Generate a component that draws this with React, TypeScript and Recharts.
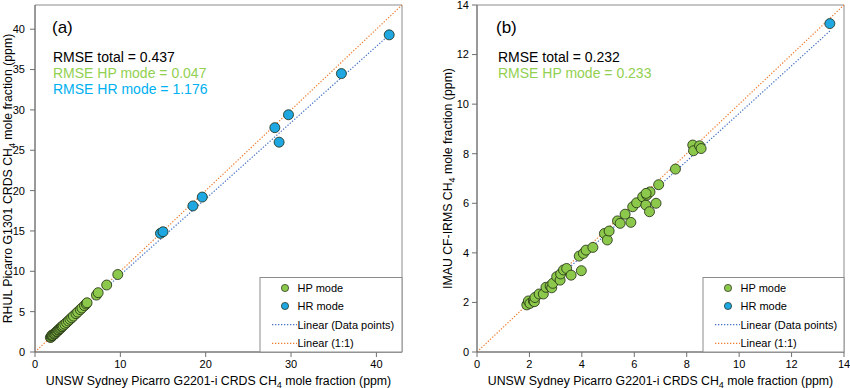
import { ScatterChart, Scatter, XAxis, YAxis, ReferenceLine, ReferenceArea } from 'recharts'

const FONT = '"Liberation Sans", Arial, Helvetica, sans-serif'
const GREEN = '#8cc84b'
const BLUE = '#1ea7e1'
const FIT_COLOR = '#4472c4'
const ONE_COLOR = '#ed7d31'

// panel (a): RHUL G1301 vs UNSW G2201-i
const HP_A: [number, number][] = [
  [1.8, 1.8], [1.9, 1.85], [1.95, 2.0], [2.0, 2.1], [2.1, 2.05], [2.2, 2.2], [2.3, 2.25],
  [2.4, 2.35], [2.5, 2.5], [2.6, 2.55], [2.7, 2.7], [2.8, 2.75], [2.9, 2.9], [3.0, 2.95],
  [3.1, 3.1], [3.2, 3.15], [3.3, 3.3], [3.5, 3.45], [3.7, 3.65], [3.9, 3.85], [4.1, 4.05],
  [4.3, 4.25], [4.5, 4.45], [4.8, 4.75], [5.0, 4.95], [5.3, 5.25], [5.5, 5.45], [5.8, 5.75],
  [6.0, 5.95], [6.1, 6.1], [7.2, 7.05], [7.4, 7.35], [8.4, 8.3], [9.7, 9.6],
]
const HR_A: [number, number][] = [
  [14.7, 14.7], [15.0, 14.9], [18.5, 18.1], [19.6, 19.2], [28.1, 27.8],
  [28.6, 26.0], [29.7, 29.4], [35.9, 34.5], [41.5, 39.3],
]
const FIT_A: [number, number][] = [[1.8, 1.8], [41.5, 39.3]]
const ONE_A: [number, number][] = [[0, 0], [43, 43]]
const XTICKS_A = [0, 10, 20, 30, 40]
const YTICKS_A = [0, 5, 10, 15, 20, 25, 30, 35, 40]
const STATS_A = [
  { text: 'RMSE total = 0.437', color: '#000000' },
  { text: 'RMSE HP mode = 0.047', color: '#92d050' },
  { text: 'RMSE HR mode = 1.176', color: '#00b0f0' },
]

// panel (b): IMAU CF-IRMS vs UNSW G2201-i
const HP_B: [number, number][] = [
  [1.9, 1.9], [1.96, 2.06], [2.02, 1.96], [2.15, 2.06], [2.19, 2.03], [2.21, 2.2],
  [2.37, 2.34], [2.53, 2.34], [2.63, 2.61], [2.79, 2.66], [2.85, 2.59], [2.89, 2.77],
  [3.04, 3.04], [3.17, 2.9], [3.19, 3.15], [3.3, 3.31], [3.42, 3.37], [3.59, 3.1],
  [3.98, 3.28], [3.9, 3.87], [4.06, 3.98], [4.16, 4.11], [4.42, 4.22], [4.86, 4.78],
  [4.97, 4.52], [5.04, 4.88], [5.36, 5.29], [5.46, 5.19], [5.65, 5.56], [5.87, 5.23],
  [5.94, 5.86], [6.09, 6.02], [6.32, 6.26], [6.44, 5.93], [6.48, 6.33], [6.58, 5.66],
  [6.6, 6.46], [6.83, 6.0], [6.45, 6.4], [6.93, 6.75], [7.57, 7.38], [8.23, 8.35],
  [8.26, 8.12], [8.49, 8.32], [8.55, 8.21],
]
const HR_B: [number, number][] = [[13.46, 13.25]]
const FIT_B: [number, number][] = [[1.9, 1.85], [13.46, 12.95]]
const ONE_B: [number, number][] = [[0, 0], [14, 14]]
const XTICKS_B = [0, 2, 4, 6, 8, 10, 12, 14]
const YTICKS_B = [0, 2, 4, 6, 8, 10, 12, 14]
const STATS_B = [
  { text: 'RMSE total = 0.232', color: '#000000' },
  { text: 'RMSE HP mode = 0.233', color: '#92d050' },
]

const pts = (arr: [number, number][]) => arr.map(([x, y]) => ({ x, y }))

const dot = (fill: string, r: number) => (p: any) => (
  <circle cx={p.cx} cy={p.cy} r={r} fill={fill} stroke="#1e2a10" strokeWidth={0.8} />
)

const tickStyle = { fill: '#000', fontSize: 11, fontFamily: FONT }

// CH4 with the 4 dropped and shrunk, then back to the baseline
function AxisTitle({ head }: { head: string }) {
  return (
    <>
      {head} CH<tspan fontSize={9} dy={3}>4</tspan><tspan dy={-3}> mole fraction (ppm)</tspan>
    </>
  )
}

interface PanelProps {
  left: number
  width: number
  margin: { top: number; right: number; bottom: number; left: number }
  yWidth: number
  yTickMargin: number
  max: number
  xTicks: number[]
  yTicks: number[]
  hp: [number, number][]
  hr: [number, number][]
  fit: [number, number][]
  one: [number, number][]
  r: number
  tag: string
  tagX: number
  stats: { text: string; color: string }[]
  statsX: number
  yLabel: string
  yLabelX: number
  legendX: number
}

function Panel(p: PanelProps) {
  const plotL = p.margin.left + p.yWidth
  const plotR = p.width - p.margin.right
  const plotT = p.margin.top
  const plotB = 388 - p.margin.bottom - 30
  const midX = (plotL + plotR) / 2
  const midY = (plotT + plotB) / 2
  const lx = p.legendX
  const rows = [288, 306, 324.7, 343.3]
  const dash = '1.3 1.7'
  return (
    <div style={{ position: 'absolute', left: p.left, top: 0, width: p.width, height: 388 }}>
      <ScatterChart width={p.width} height={388} margin={p.margin}>
        <XAxis
          type="number" dataKey="x" domain={[0, p.max]} ticks={p.xTicks} interval={0}
          allowDataOverflow height={30} tickSize={5} tickMargin={3}
          stroke="#6f6f6f" tick={tickStyle}
        />
        <YAxis
          type="number" dataKey="y" domain={[0, p.max]} ticks={p.yTicks} interval={0}
          allowDataOverflow width={p.yWidth} tickSize={5} tickMargin={p.yTickMargin}
          stroke="#6f6f6f" tick={tickStyle}
        />
        <ReferenceArea x1={0} x2={p.max} y1={0} y2={p.max} fill="none" stroke="#8c8c8c" strokeWidth={1} />
        <Scatter data={pts(p.hp)} fill={GREEN} shape={dot(GREEN, p.r)} isAnimationActive={false} />
        <Scatter data={pts(p.hr)} fill={BLUE} shape={dot(BLUE, p.r)} isAnimationActive={false} />
        <ReferenceLine segment={pts(p.fit)} stroke={FIT_COLOR} strokeWidth={1.2} strokeDasharray={dash} />
        <ReferenceLine segment={pts(p.one)} stroke={ONE_COLOR} strokeWidth={1.2} strokeDasharray={dash} />
      </ScatterChart>
      <svg width={p.width} height={388} style={{ position: 'absolute', left: 0, top: 0, pointerEvents: 'none' }}
        fontFamily={FONT}>
        <text x={p.tagX} y={33} fontSize={17}>{p.tag}</text>
        {p.stats.map((s, i) => (
          <text key={s.text} x={p.statsX} y={61.5 + i * 16} fontSize={14} fill={s.color}>{s.text}</text>
        ))}
        <text x={midX} y={384.5} fontSize={12.3} textAnchor="middle">
          <AxisTitle head="UNSW Sydney Picarro G2201-i CRDS" />
        </text>
        <text transform={`translate(${p.yLabelX},${midY}) rotate(-90)`} fontSize={12.3} textAnchor="middle">
          <AxisTitle head={p.yLabel} />
        </text>
        <rect x={lx} y={277.5} width={plotR - lx} height={plotB - 277.5} fill="#fff" stroke="#8c8c8c" />
        <circle cx={lx + 25} cy={rows[0]} r={3.6} fill={GREEN} stroke="#1e2a10" strokeWidth={0.7} />
        <circle cx={lx + 25} cy={rows[1]} r={3.6} fill={BLUE} stroke="#1e2a10" strokeWidth={0.7} />
        <line x1={lx + 12} x2={lx + 37} y1={rows[2]} y2={rows[2]} stroke={FIT_COLOR} strokeWidth={1.2} strokeDasharray={dash} />
        <line x1={lx + 12} x2={lx + 37} y1={rows[3]} y2={rows[3]} stroke={ONE_COLOR} strokeWidth={1.2} strokeDasharray={dash} />
        {['HP mode', 'HR mode', 'Linear (Data points)', 'Linear (1:1)'].map((t, i) => (
          <text key={t} x={lx + 37.5} y={rows[i] + 3.9} fontSize={11}>{t}</text>
        ))}
      </svg>
    </div>
  )
}

export default function App() {
  return (
    <div style={{ position: 'absolute', left: 0, top: 0, width: 850, height: 388, background: '#fff', fontFamily: FONT }}>
      <Panel
        left={0} width={420} margin={{ top: 5, right: 18, bottom: 6, left: 0 }} yWidth={35} yTickMargin={5}
        max={43} xTicks={XTICKS_A} yTicks={YTICKS_A} hp={HP_A} hr={HR_A} fit={FIT_A} one={ONE_A} r={5}
        tag="(a)" tagX={52} stats={STATS_A} statsX={53} yLabel="RHUL Picarro G1301 CRDS" yLabelX={11.5}
        legendX={260}
      />
      <Panel
        left={420} width={430} margin={{ top: 5, right: 6, bottom: 6, left: 27 }} yWidth={30} yTickMargin={3}
        max={14} xTicks={XTICKS_B} yTicks={YTICKS_B} hp={HP_B} hr={HR_B} fit={FIT_B} one={ONE_B} r={5}
        tag="(b)" tagX={76} stats={STATS_B} statsX={78} yLabel="IMAU CF-IRMS" yLabelX={32}
        legendX={283}
      />
    </div>
  )
}
